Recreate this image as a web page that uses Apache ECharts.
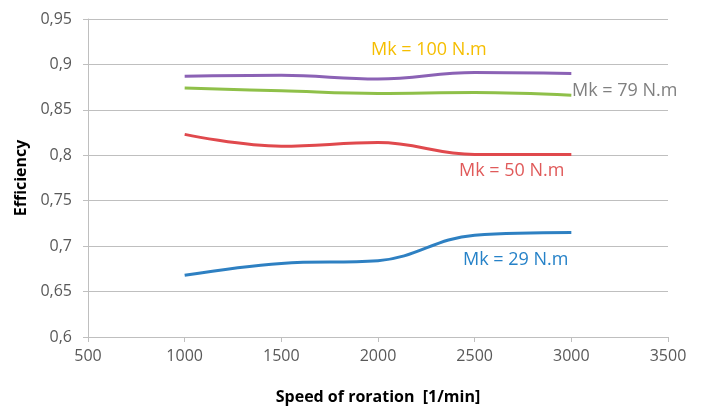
<!DOCTYPE html>
<html>
<head>
<meta charset="utf-8">
<script src="https://cdn.jsdelivr.net/npm/echarts@6/dist/echarts.min.js"></script>
<style>html,body{margin:0;padding:0;background:#fff;}#c{width:702px;height:410px;}</style>
</head>
<body>
<div id="c"></div>
<script>
var speeds = [1000, 1500, 2000, 2500, 3000];
var mk100 = [0.887, 0.888, 0.884, 0.891, 0.890];
var mk79  = [0.874, 0.871, 0.868, 0.869, 0.866];
var mk50  = [0.823, 0.810, 0.814, 0.801, 0.801];
var mk29  = [0.668, 0.681, 0.684, 0.712, 0.715];
var seriesNames = ['Mk = 100 N.m', 'Mk = 79 N.m', 'Mk = 50 N.m', 'Mk = 29 N.m'];

function pairs(ys){ return speeds.map(function(x,i){ return [x, ys[i]]; }); }
var FONT = 'Open Sans';
var chart = echarts.init(document.getElementById('c'), null, {renderer:'canvas'});
function line(name, ys, color){
  return {name:name, type:'line', data:pairs(ys), smooth:0.4, smoothMonotone:'none', showSymbol:false, symbol:'none',
    lineStyle:{color:color, width:3}, itemStyle:{color:color}, z:3};
}
chart.setOption({
  animation:false,
  backgroundColor:'#fff',
  grid:{left:88, right:34, top:19, bottom:73, containLabel:false, outerBoundsMode:'none'},
  xAxis:{type:'value', min:500, max:3500, interval:500,
    name:'Speed of roration  [1/min]', nameLocation:'middle', nameGap:52,
    nameTextStyle:{fontFamily:FONT, fontWeight:'bold', fontSize:16, color:'#000'},
    axisLine:{show:true, lineStyle:{color:'#BFBFBF'}},
    axisTick:{show:true, length:5, lineStyle:{color:'#BFBFBF'}},
    axisLabel:{fontFamily:FONT, fontSize:16, color:'#595959', margin:11,
      formatter:function(v){ return String(v); }},
    splitLine:{show:false}},
  yAxis:{type:'value', min:0.6, max:0.95, interval:0.05,
    name:'Efficiency', nameLocation:'middle', nameGap:58, nameRotate:90,
    nameTextStyle:{fontFamily:FONT, fontWeight:'bold', fontSize:16, color:'#000'},
    axisLine:{show:true, lineStyle:{color:'#BFBFBF'}},
    axisTick:{show:true, length:5, lineStyle:{color:'#BFBFBF'}},
    axisLabel:{fontFamily:FONT, fontSize:16, color:'#595959', margin:16,
      formatter:function(v){ return String(parseFloat(v.toFixed(2))).replace('.', ','); }},
    splitLine:{show:true, lineStyle:{color:'#BFBFBF', width:1}}},
  series:[
    line(seriesNames[0], mk100, '#8B62B5'),
    line(seriesNames[1], mk79, '#8FC049'),
    line(seriesNames[2], mk50, '#E0494D'),
    line(seriesNames[3], mk29, '#2E80C2')
  ],
  graphic:[
    {type:'text', left:371, top:41, style:{text:seriesNames[0], fill:'#F5BE00', font:'18px "Open Sans"'}},
    {type:'text', left:572, top:82, style:{text:seriesNames[1], fill:'#808080', font:'18px "Open Sans"'}},
    {type:'text', left:459, top:162, style:{text:seriesNames[2], fill:'#E05A5A', font:'18px "Open Sans"'}},
    {type:'text', left:463, top:251, style:{text:seriesNames[3], fill:'#2682C8', font:'18px "Open Sans"'}}
  ]
});
</script>
</body>
</html>
